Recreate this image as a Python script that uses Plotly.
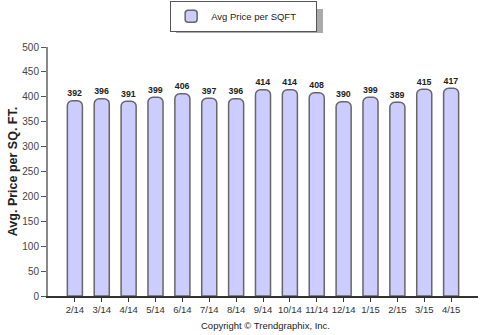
import plotly.graph_objects as go

months = ["2/14", "3/14", "4/14", "5/14", "6/14", "7/14", "8/14", "9/14",
          "10/14", "11/14", "12/14", "1/15", "2/15", "3/15", "4/15"]
price_per_sqft = [392, 396, 391, 399, 406, 397, 396, 414, 414, 408, 390, 399, 389, 415, 417]
y_ticks = [0, 50, 100, 150, 200, 250, 300, 350, 400, 450, 500]

idx = list(range(len(months)))
FONT = "Liberation Sans, Arial"

fig = go.Figure()
fig.add_trace(go.Bar(
    x=idx, y=price_per_sqft, name="Avg Price per SQFT",
    width=0.56,
    marker=dict(color="#CCCCFF", line=dict(color="#666666", width=1.5), cornerradius=5),
    text=[str(v) for v in price_per_sqft], textposition="outside",
    textfont=dict(family=FONT, size=10, color="#222222"),
    texttemplate="<b>%{text}</b>", cliponaxis=False,
))

fig.update_layout(
    width=482, height=335,
    margin=dict(l=48, r=4, t=47, b=39),
    paper_bgcolor="white", plot_bgcolor="white",
    showlegend=True,
    legend=dict(x=0.455, xanchor="center", y=0.905, yref="container", yanchor="bottom",
                orientation="h", bordercolor="#555555", borderwidth=1,
                bgcolor="white", font=dict(family=FONT, size=9.5, color="#222"),
                itemwidth=30, entrywidth=100, tracegroupgap=0),
    xaxis=dict(tickmode="array", tickvals=idx, ticktext=months, range=[-1, 15],
               tickangle=0,
               showline=True, linecolor="#333333", linewidth=1.5,
               ticks="outside", ticklen=4, tickcolor="#333333",
               showgrid=False, zeroline=False,
               tickfont=dict(family=FONT, size=9.5, color="#333")),
    yaxis=dict(range=[0, 500], tickvals=y_ticks, showline=True, linecolor="#888888",
               linewidth=2, ticks="outside", ticklen=5, tickcolor="#555555",
               showgrid=False, zeroline=False,
               tickfont=dict(family=FONT, size=10, color="#444"),
               title=dict(text="<b>Avg. Price per SQ. FT.</b>",
                          font=dict(family=FONT, size=12.5, color="#222"),
                          standoff=2)),
    font=dict(family=FONT),
)

# legend drop shadow
fig.add_shape(type="rect", xref="paper", yref="paper",
              x0=(176 - 48) / 430, x1=(323 - 48) / 430,
              y0=(296 - 33) / 249, y1=(296 - 9) / 249,
              fillcolor="#aaaaaa", line=dict(width=0), layer="above")

fig.add_annotation(text="Copyright © Trendgraphix, Inc.", xref="paper", yref="paper",
                   x=0.505, y=-0.09, xanchor="center", yanchor="top", showarrow=False,
                   font=dict(family=FONT, size=9.5, color="#222"))

fig.write_html("out.html")
